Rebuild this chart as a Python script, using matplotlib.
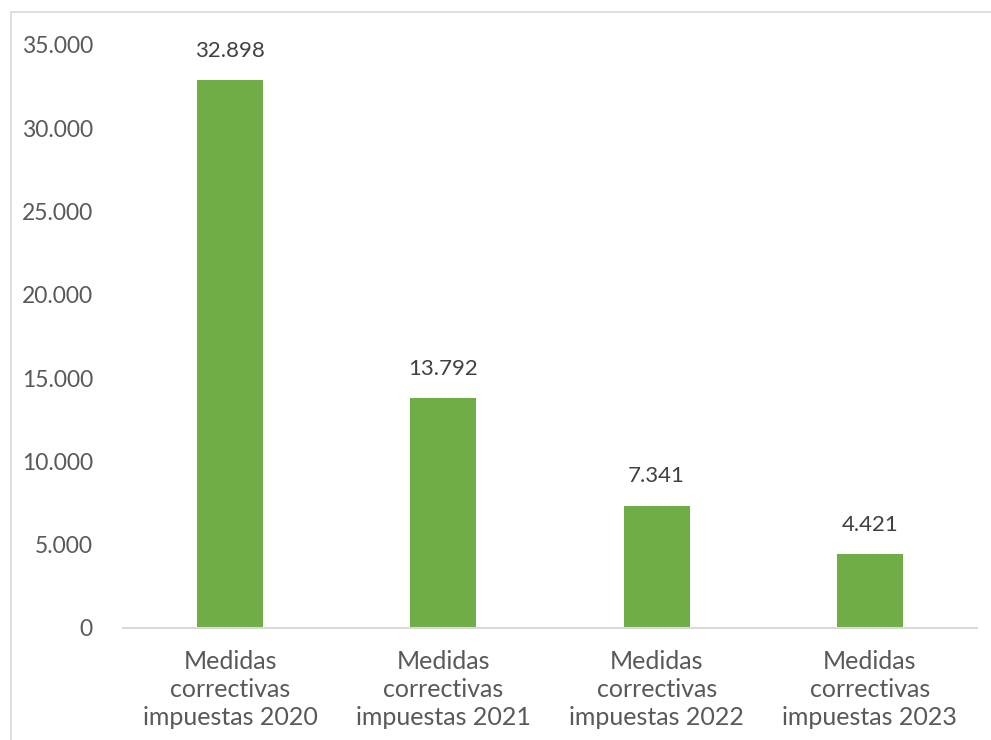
import matplotlib
matplotlib.use("Agg")
import matplotlib.pyplot as plt
from matplotlib.patches import Rectangle
from matplotlib.ticker import FuncFormatter, MultipleLocator

# datos
categorias = [
    "Medidas\ncorrectivas\nimpuestas 2020",
    "Medidas\ncorrectivas\nimpuestas 2021",
    "Medidas\ncorrectivas\nimpuestas 2022",
    "Medidas\ncorrectivas\nimpuestas 2023",
]
valores = [32898, 13792, 7341, 4421]

VERDE = "#70ad47"
GRIS_TEXTO = "#595959"
GRIS_LINEA = "#d9d9d9"

plt.rcParams["font.family"] = ["Lato", "DejaVu Sans"]


def miles(v, _pos=None):
    return f"{v:,.0f}".replace(",", ".")


fig = plt.figure(figsize=(9.91, 7.4), dpi=100)

# marco del gráfico
fig.patches.append(Rectangle((11 / 991, -0.01), 1.0, 1 - 12 / 740 + 0.01,
                             transform=fig.transFigure, fill=False,
                             edgecolor=GRIS_LINEA, linewidth=1.2))

ax = fig.add_axes([0.1246, 0.1514, 0.8608, 0.7878])
x = range(len(categorias))
barras = ax.bar(x, valores, width=0.31, color=VERDE, zorder=2)

ax.set_ylim(0, 35000)
ax.set_xlim(-0.5, len(categorias) - 0.5)
ax.yaxis.set_major_locator(MultipleLocator(5000))
ax.yaxis.set_major_formatter(FuncFormatter(miles))

for b, v in zip(barras, valores):
    ax.annotate(miles(v), (b.get_x() + b.get_width() / 2, v),
                textcoords="offset points", xytext=(0, 14),
                ha="center", va="bottom", fontsize=16, color="#404040")

ax.set_xticks(list(x))
ax.set_xticklabels(categorias, fontsize=18, color=GRIS_TEXTO, linespacing=1.25)
ax.tick_params(axis="y", labelsize=16.5, labelcolor=GRIS_TEXTO, length=0, pad=22)
ax.tick_params(axis="x", length=0, pad=16)

for lado in ["top", "right", "left"]:
    ax.spines[lado].set_visible(False)
ax.spines["bottom"].set_color(GRIS_LINEA)
ax.spines["bottom"].set_linewidth(1.5)

fig.savefig("out.png", dpi=100)
